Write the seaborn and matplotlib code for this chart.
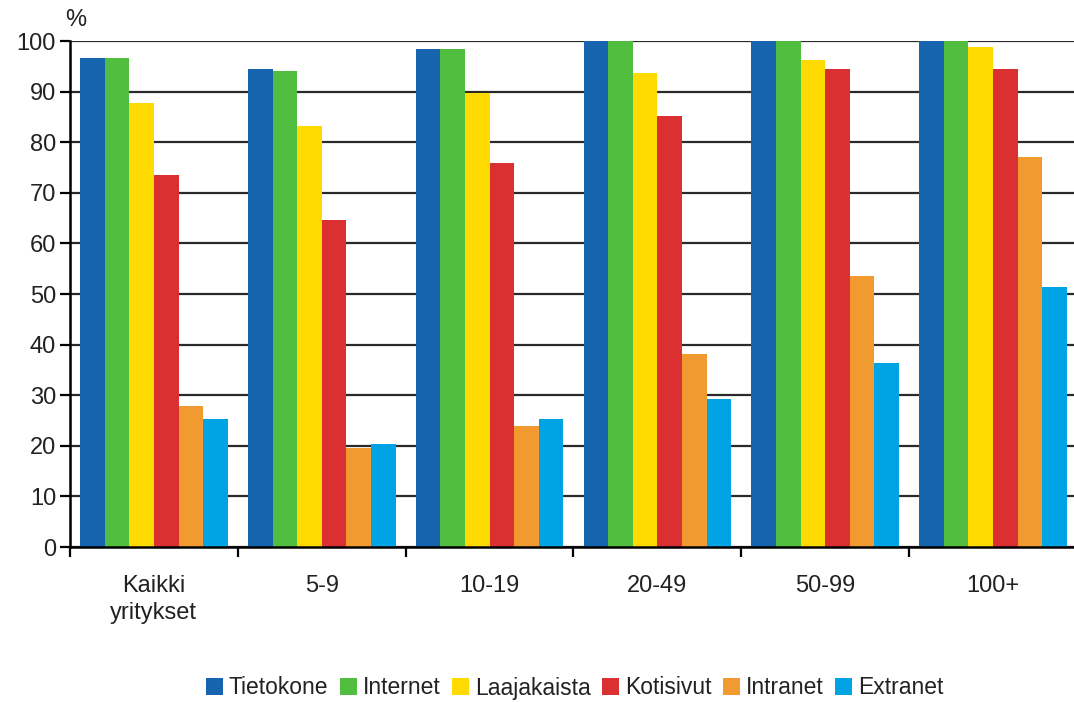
import pandas as pd
import matplotlib
matplotlib.use("Agg")
import matplotlib.pyplot as plt
import seaborn as sns
from matplotlib.ticker import FixedLocator

# Data (share of firms, %)
groups = ["Kaikki\nyritykset", "5-9", "10-19", "20-49", "50-99", "100+"]
series = ["Tietokone", "Internet", "Laajakaista", "Kotisivut", "Intranet", "Extranet"]
tietokone = [96.6, 94.5, 98.4, 100.0, 100.0, 100.0]
internet = [96.6, 94.0, 98.4, 100.0, 100.0, 100.0]
laajakaista = [87.8, 83.3, 89.7, 93.6, 96.2, 98.9]
kotisivut = [73.5, 64.6, 75.8, 85.2, 94.5, 94.5]
intranet = [27.9, 19.5, 23.9, 38.1, 53.6, 77.1]
extranet = [25.2, 20.3, 25.2, 29.2, 36.4, 51.3]
colors = ["#1764ae", "#52be3f", "#ffda00", "#db3032", "#f19a2f", "#00a3e4"]

values = [tietokone, internet, laajakaista, kotisivut, intranet, extranet]
rows = []
for name, vals in zip(series, values):
    for g, v in zip(groups, vals):
        rows.append({"Ryhmä": g, "Sarja": name, "Osuus": v})
df = pd.DataFrame(rows)

sns.set_theme(style="white")
plt.rcParams["font.family"] = ["Liberation Sans", "DejaVu Sans"]

fig = plt.figure(figsize=(10.74, 7.02), dpi=100)
ax = fig.add_axes([70 / 1074, 1 - 547 / 702, 1007 / 1074, 506 / 702])

sns.barplot(data=df, x="Ryhmä", y="Osuus", hue="Sarja", order=groups,
            hue_order=series, palette=colors, width=0.88, saturation=1,
            linewidth=0, ax=ax, legend=True)

ax.set_ylim(0, 100)
ax.set_xlim(-0.5, 5.5)
ax.set_yticks(range(0, 101, 10))
ax.yaxis.grid(True, color="#2a2a2a", linewidth=1.6)
ax.set_axisbelow(True)
ax.set_xlabel("")
ax.set_ylabel("")

for side in ["top", "right"]:
    ax.spines[side].set_visible(False)
for side in ["left", "bottom"]:
    ax.spines[side].set_color("black")
    ax.spines[side].set_linewidth(1.8)

ax.tick_params(axis="y", which="major", direction="out", length=7, width=1.6,
               color="black", labelsize=17, labelcolor="#222222", pad=3, left=True)
ax.tick_params(axis="x", which="major", length=0, labelsize=17,
               labelcolor="#222222", pad=20)
ax.xaxis.set_minor_locator(FixedLocator([i - 0.5 for i in range(7)]))
ax.tick_params(axis="x", which="minor", direction="out", length=7, width=1.6,
               color="black", bottom=True)
for lbl in ax.get_xticklabels():
    lbl.set_linespacing(1.3)

fig.text(65 / 1074, 1 - 20 / 702, "%", fontsize=17, color="#222222",
         va="center", ha="left")

handles, labels = ax.get_legend_handles_labels()
ax.get_legend().remove()
fig.legend(handles, labels, loc="center", bbox_to_anchor=(0.535, 1 - 688 / 702),
           ncol=6, frameon=False, fontsize=16.5, handlelength=0.75, handleheight=0.75,
           handletextpad=0.25, columnspacing=0.5, labelcolor="#222222")

fig.savefig("out.png", dpi=100)
